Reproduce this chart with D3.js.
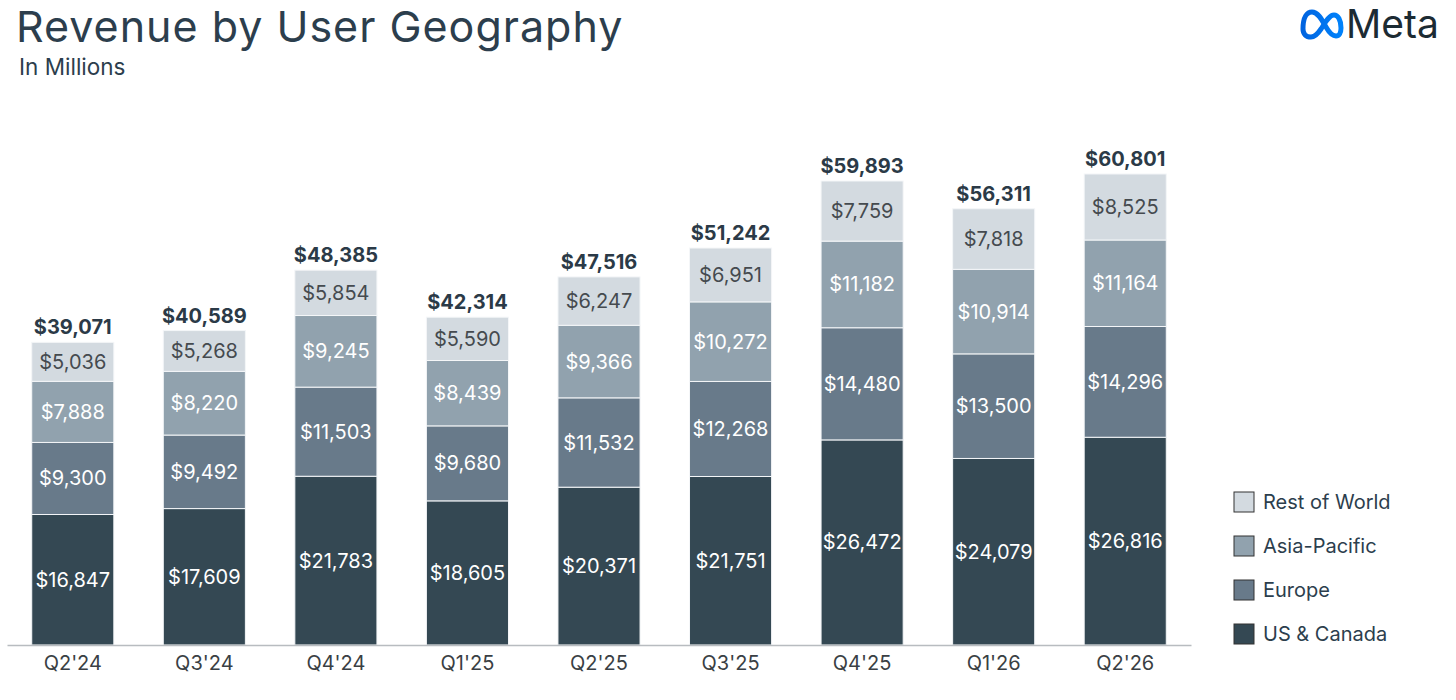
<!DOCTYPE html>
<html>
<head>
<meta charset="utf-8">
<script src="https://cdn.jsdelivr.net/npm/d3@7"></script>
<style>
  body { margin: 0; background: #fff; }
  svg { display: block; font-family: "Inter", "Noto Sans", sans-serif; }
</style>
</head>
<body>
<div id="main"></div>
<script>
const quarters = ["Q2'24", "Q3'24", "Q4'24", "Q1'25", "Q2'25", "Q3'25", "Q4'25", "Q1'26", "Q2'26"];
const usCanada = [16847, 17609, 21783, 18605, 20371, 21751, 26472, 24079, 26816];
const europe = [9300, 9492, 11503, 9680, 11532, 12268, 14480, 13500, 14296];
const asiaPacific = [7888, 8220, 9245, 8439, 9366, 10272, 11182, 10914, 11164];
const restOfWorld = [5036, 5268, 5854, 5590, 6247, 6951, 7759, 7818, 8525];
const totals = [39071, 40589, 48385, 42314, 47516, 51242, 59893, 56311, 60801];

const regions = [
    { key: 'us', name: 'US & Canada', values: usCanada, fill: '#344853', text: '#ffffff' },
    { key: 'eu', name: 'Europe', values: europe, fill: '#687a8a', text: '#ffffff' },
    { key: 'ap', name: 'Asia-Pacific', values: asiaPacific, fill: '#91a2ae', text: '#ffffff' },
    { key: 'row', name: 'Rest of World', values: restOfWorld, fill: '#d3dae0', text: '#454a4f' }
];

const W = 1456, H = 700;
const svg = d3.select('#main').append('svg').attr('width', W).attr('height', H);

// title block
svg.append('text').attr('x', 16).attr('y', 42)
    .attr('font-size', 43).attr('letter-spacing', 1).attr('fill', '#2c3e4d').text('Revenue by User Geography');
svg.append('text').attr('x', 19).attr('y', 75)
    .attr('font-size', 22.5).attr('fill', '#2c3e4d').text('In Millions');

// meta logo
const logo = svg.append('g').attr('transform', 'translate(1300,8)');
const grad = svg.append('defs').append('linearGradient').attr('id', 'mg')
    .attr('x1', 0).attr('x2', 1).attr('y1', 0).attr('y2', 0);
grad.append('stop').attr('offset', 0).attr('stop-color', '#0064e0');
grad.append('stop').attr('offset', 1).attr('stop-color', '#0082fb');
logo.append('path')
    .attr('d', 'M3,21 C3,9 7,4 12,4 C18,4 22,12 26,19 C30,26 33,28 36,28 C39,28 41,25 41,20 C41,12 38,7 34,7 C29,7 25,15 21,21 C17,27 14,29 11,29 C6,29 3,26 3,21 Z')
    .attr('fill', 'none').attr('stroke', 'url(#mg)').attr('stroke-width', 5).attr('stroke-linejoin', 'round');
logo.append('text').attr('x', 46).attr('y', 30)
    .attr('font-size', 39).attr('font-weight', 400).attr('fill', '#1c2b33').text('Meta');

// scales
const x = d3.scaleBand().domain(quarters).range([7, 1191]).paddingInner(0.376).paddingOuter(0.188);
const y = d3.scaleLinear().domain([0, 70000]).range([645, 645 - 70000 * 0.007747]);

const stackData = quarters.map((q, i) => {
    const o = { q };
    regions.forEach(r => { o[r.key] = r.values[i]; });
    return o;
});
const series = d3.stack().keys(regions.map(r => r.key))(stackData);

const groups = svg.append('g').selectAll('g')
    .data(series)
    .enter()
    .append('g');

groups.each(function (s, si) {
    const r = regions[si];
    const g = d3.select(this);
    g.selectAll('rect')
        .data(s)
        .enter()
        .append('rect')
        .attr('x', d => x(d.data.q))
        .attr('y', d => y(d[1]))
        .attr('width', x.bandwidth())
        .attr('height', d => y(d[0]) - y(d[1]))
        .attr('fill', r.fill)
        .attr('stroke', '#f4f6f8')
        .attr('stroke-width', 1);
    g.selectAll('text')
        .data(s)
        .enter()
        .append('text')
        .attr('x', d => x(d.data.q) + x.bandwidth() / 2)
        .attr('y', d => (y(d[0]) + y(d[1])) / 2 + 7)
        .attr('text-anchor', 'middle')
        .attr('font-size', 20)
        .attr('fill', r.text)
        .text(d => '$' + d3.format(',')(d[1] - d[0]));
});

// totals
svg.append('g').selectAll('text')
    .data(quarters)
    .enter()
    .append('text')
    .attr('x', d => x(d) + x.bandwidth() / 2)
    .attr('y', (d, i) => y(totals[i]) - 8)
    .attr('text-anchor', 'middle')
    .attr('font-size', 20)
    .attr('font-weight', 700)
    .attr('fill', '#2b3a47')
    .text((d, i) => '$' + d3.format(',')(totals[i]));

// axis
const axis = svg.append('g').attr('transform', 'translate(0,645)')
    .call(d3.axisBottom(x).tickSize(0).tickPadding(11));
axis.select('.domain').attr('stroke', '#b8bcc0').attr('stroke-width', 1.5);
axis.selectAll('text').attr('font-size', 20).attr('fill', '#3a3f44')
    .attr('font-family', '"Inter", "Noto Sans", sans-serif');

// legend
const legend = svg.append('g').attr('id', 'legend')
    .selectAll('g')
    .data(regions.slice().reverse())
    .enter()
    .append('g')
    .attr('transform', (d, i) => 'translate(1234,' + (492 + i * 44) + ')');
legend.append('rect')
    .attr('width', 20).attr('height', 20)
    .attr('fill', d => d.fill)
    .attr('stroke', '#333').attr('stroke-width', 1);
legend.append('text')
    .attr('x', 29).attr('y', 17)
    .attr('font-size', 20).attr('fill', '#2c3e4d')
    .text(d => d.name);
</script>
</body>
</html>
